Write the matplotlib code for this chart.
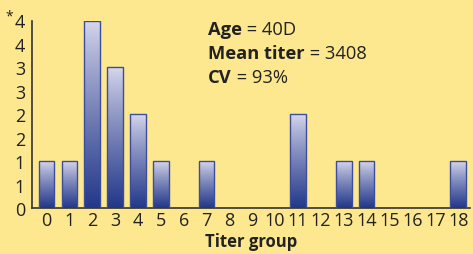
import numpy as np
import matplotlib.pyplot as plt

# titer group -> count
groups = list(range(19))
counts = [1, 1, 4, 3, 2, 1, 0, 1, 0, 0, 0, 2, 0, 1, 1, 0, 0, 0, 1]
y_ticks = [0, 0.5, 1, 1.5, 2, 2.5, 3, 3.5, 4]
y_tick_labels = ["0", "1", "1", "2", "2", "3", "3", "4", "4"]
stats = [("Age", "40D"), ("Mean titer", "3408"), ("CV", "93%")]

bg = "#fde78f"
ink = "#222222"
plt.rcParams['font.family'] = ['Open Sans', 'DejaVu Sans']

W, H = 473, 255
fig = plt.figure(figsize=(W / 100, H / 100), dpi=100, facecolor=bg)
ax = fig.add_axes([32 / W, 46 / H, 438 / W, 187.5 / H], facecolor=bg)

bars = ax.bar(groups, counts, width=0.68, facecolor="none",
              edgecolor="#3a4d9e", linewidth=1.0, zorder=3)

# vertical gradient in each bar, light on top, dark at the base
top = np.array([0.85, 0.85, 0.93])
bot = np.array([0.14, 0.22, 0.54])
t = np.linspace(0, 1, 100)[:, None] ** 0.85
grad = (top * (1 - t) + bot * t)[:, None, :]
for b in bars:
    h = b.get_height()
    if h <= 0:
        continue
    x0 = b.get_x()
    ax.imshow(grad, extent=(x0, x0 + b.get_width(), 0, h), aspect="auto",
              zorder=2, interpolation="bilinear")

ax.set_xlim(-0.63, 18.52)
ax.set_ylim(0, 4.0)
ax.set_xticks(groups)
ax.set_xticklabels([str(g) for g in groups])
ax.set_yticks(y_ticks)
ax.set_yticklabels(y_tick_labels)
ax.tick_params(length=0, labelsize=13, colors=ink)
ax.tick_params(axis="x", pad=2)
ax.tick_params(axis="y", pad=5)
for s in ["top", "right"]:
    ax.spines[s].set_visible(False)
for s in ["left", "bottom"]:
    ax.spines[s].set_color("#333333")
    ax.spines[s].set_linewidth(1.2)

ax.set_xlabel("Titer group", fontsize=12, fontweight="bold", color=ink,
              labelpad=2)
fig.text(5 / W, 1 - 17 / H, "*", fontsize=10, color=ink,
         ha="left", va="center")

# stats box, bold key then plain value
fig.canvas.draw()
r = fig.canvas.get_renderer()
baselines = [35, 59, 83]
for (key, val), yb in zip(stats, baselines):
    t1 = fig.text(208 / W, 1 - yb / H, key, fontsize=13.2, fontweight="bold",
                  color=ink, ha="left", va="baseline")
    bb = t1.get_window_extent(renderer=r)
    fig.text(bb.x1 / W, 1 - yb / H, " = " + val, fontsize=13.2,
             color=ink, ha="left", va="baseline")

fig.savefig("out.png", dpi=100, facecolor=bg)
